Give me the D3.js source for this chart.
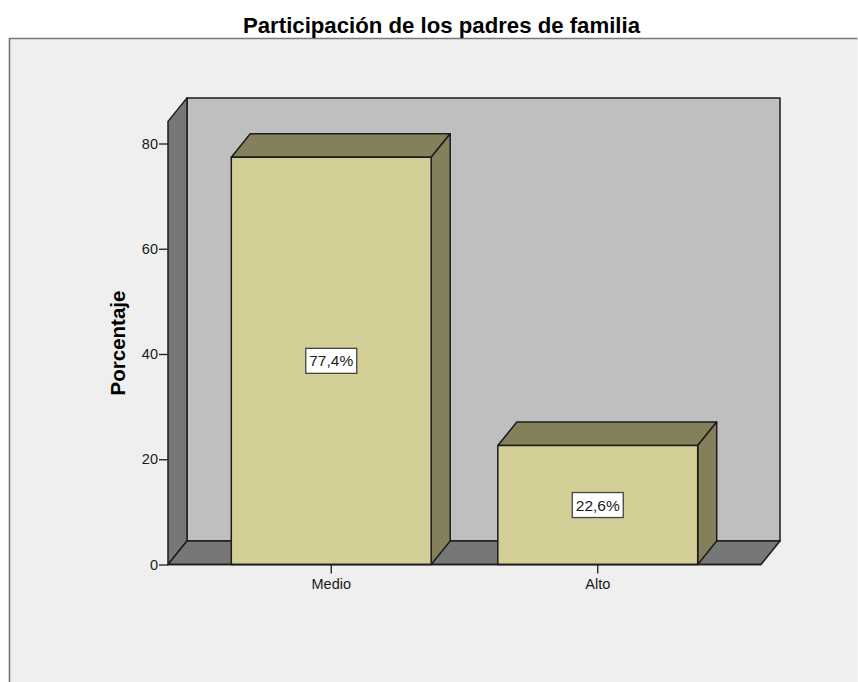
<!DOCTYPE html>
<html><head><meta charset="utf-8">
<script src="https://cdn.jsdelivr.net/npm/d3@7/dist/d3.min.js"></script>
<style>html,body{margin:0;padding:0;background:#fff}svg{display:block}text{font-family:"Liberation Sans",Arial,sans-serif;fill:#1a1a1a}</style>
</head><body><svg id="c" width="858" height="682"></svg>
<script>
const categories = ["Medio", "Alto"];
const percentages = [77.4, 22.6];
const barLabels = ["77,4%", "22,6%"];
const yTicks = [0, 20, 40, 60, 80];
const titleText = "Participación de los padres de familia";
const yTitle = "Porcentaje";

const svg = d3.select("#c");
const dx = 19, dy = -23.5;
const y = d3.scaleLinear().domain([0, 80]).range([564.5, 143.5]);
const yTop = y(84.2);
const x = d3.scaleBand().domain(categories).range([168, 761]).paddingInner(0.25).paddingOuter(0.2375);
const L = 168, R = 761, B = y(0);
const ink = "#1c1c1c";
const poly = (pts, fill, sw = 1.5) => svg.append("polygon").attr("points", pts.map(p => p.join(",")).join(" "))
  .attr("fill", fill).attr("stroke", ink).attr("stroke-width", sw).attr("stroke-linejoin", "round");

// frame
svg.append("path").attr("d", "M9.5,682V38.5H857.5V682H9.5").attr("fill", "#efefef").attr("stroke", "none");
svg.append("path").attr("d", "M9.5,682V38.5H857.5").attr("fill", "none").attr("stroke", "#777").attr("stroke-width", 1.6);

// walls
poly([[L + dx, yTop + dy], [R + dx, yTop + dy], [R + dx, B + dy], [L + dx, B + dy]], "#bfbfbf");
poly([[L, yTop], [L + dx, yTop + dy], [L + dx, B + dy], [L, B]], "#777777");
poly([[L, B], [L + dx, B + dy], [R + dx, B + dy], [R, B]], "#777777");

// bars
categories.forEach((c, i) => {
  const x0 = x(c), x1 = x0 + x.bandwidth(), t = y(percentages[i]);
  poly([[x0, t], [x0 + dx, t + dy], [x1 + dx, t + dy], [x1, t]], "#85805c");
  poly([[x1, t], [x1 + dx, t + dy], [x1 + dx, B + dy], [x1, B]], "#85805c");
  poly([[x0, t], [x1, t], [x1, B], [x0, B]], "#d3cf97");
  const cx = (x0 + x1) / 2, cy = (t + B) / 2;
  svg.append("rect").attr("x", cx - 25.5).attr("y", cy - 12.5).attr("width", 51).attr("height", 25)
    .attr("fill", "#fff").attr("stroke", "#444").attr("stroke-width", 1.3);
  svg.append("text").attr("x", cx).attr("y", cy + 5.5).attr("text-anchor", "middle").attr("font-size", 15.5).text(barLabels[i]);
});
svg.append("line").attr("x1", L).attr("x2", R).attr("y1", B).attr("y2", B).attr("stroke", ink).attr("stroke-width", 1.5);

// axes
const yAxis = svg.append("g").attr("transform", `translate(${L},0)`)
  .call(d3.axisLeft(y).tickValues(yTicks).tickSize(9).tickPadding(1).tickFormat(d3.format("d")));
yAxis.select(".domain").remove();
yAxis.selectAll("line").attr("stroke", ink).attr("stroke-width", 1.3);
yAxis.selectAll("text").attr("font-size", 14.5).attr("font-family", '"Liberation Sans"').attr("fill", "#1a1a1a");

const xAxis = svg.append("g").attr("transform", `translate(0,${B})`)
  .call(d3.axisBottom(x).tickSize(9).tickPadding(5));
xAxis.select(".domain").remove();
xAxis.selectAll("line").attr("stroke", ink).attr("stroke-width", 1.3);
xAxis.selectAll("text").attr("font-size", 14.5).attr("font-family", '"Liberation Sans"').attr("fill", "#1a1a1a");

// titles
svg.append("text").attr("x", 441.5).attr("y", 33).attr("text-anchor", "middle")
  .attr("font-size", 22.2).attr("font-weight", "bold").style("fill", "#000").text(titleText);
svg.append("text").attr("transform", "translate(124.5,343) rotate(-90)").attr("text-anchor", "middle")
  .attr("font-size", 20.5).attr("font-weight", "bold").style("fill", "#000").text(yTitle);
</script></body></html>
